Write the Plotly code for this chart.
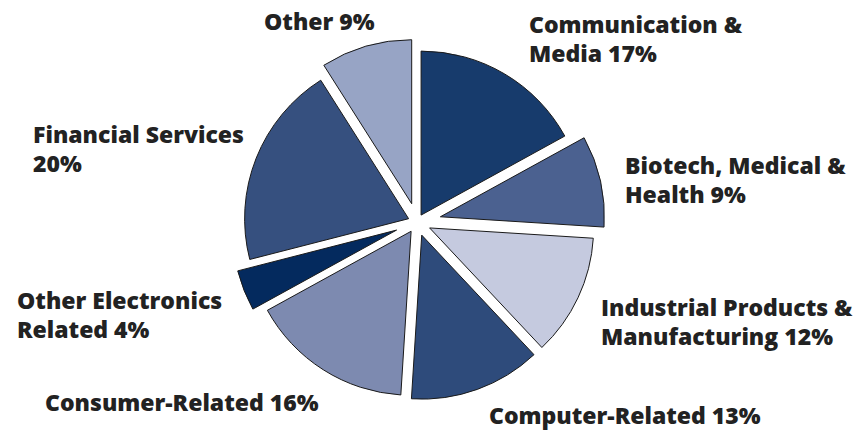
import plotly.graph_objects as go

# Portfolio mix by industry sector
sectors = [
    "Communication & Media",
    "Biotech, Medical & Health",
    "Industrial Products & Manufacturing",
    "Computer-Related",
    "Consumer-Related",
    "Other Electronics Related",
    "Financial Services",
    "Other",
]
shares = [17, 9, 12, 13, 16, 4, 20, 9]
slice_colors = ["#173b6c", "#4b6190", "#c5cadf", "#2e4b7b",
                "#7d8ab0", "#042a5e", "#36507f", "#97a4c5"]
# Explosion of each slice, as a fraction of the radius
pulls = [0.049, 0.146, 0.085, 0.085, 0.067, 0.134, 0.055, 0.116]

# Label text lines for each sector (percent appended from shares)
label_lines = [
    ["Communication &", "Media {}%"],
    ["Biotech, Medical &", "Health {}%"],
    ["Industrial Products &", "Manufacturing {}%"],
    ["Computer-Related {}%"],
    ["Consumer-Related {}%"],
    ["Other Electronics", "Related {}%"],
    ["Financial Services", "{}%"],
    ["Other {}%"],
]
# Label anchor (left edge x, first-line middle y) in pixels
label_pos = [
    (527, 24), (623, 165), (599, 307), (487, 415),
    (43, 402), (15, 300), (31, 134), (262, 21),
]
LINE_STEP = 29

W, H = 858, 430
R = 164
cx, cy = 417, 222
half = R * (1 + max(pulls))

fig = go.Figure(go.Pie(
    labels=sectors,
    values=shares,
    sort=False,
    direction="clockwise",
    rotation=0,
    pull=pulls,
    marker=dict(colors=slice_colors, line=dict(color="#1a1a1a", width=1)),
    textinfo="none",
    hoverinfo="label+percent",
    showlegend=False,
    domain=dict(x=[(cx - half) / W, (cx + half) / W],
                y=[1 - (cy + half) / H, 1 - (cy - half) / H]),
))

annotations = []
for lines, (lx, ly), v in zip(label_lines, label_pos, shares):
    for i, line in enumerate(lines):
        annotations.append(dict(
            x=lx / W, y=1 - (ly + i * LINE_STEP) / H,
            xref="paper", yref="paper",
            xanchor="left", yanchor="middle",
            text=line.format(v).replace("&", "&amp;"),
            showarrow=False,
            font=dict(family="Open Sans", size=23, color="#222222",
                      weight=800),
        ))

fig.update_layout(
    width=W, height=H,
    margin=dict(l=0, r=0, t=0, b=0),
    paper_bgcolor="white",
    plot_bgcolor="white",
    annotations=annotations,
)

fig.write_html("out.html")
